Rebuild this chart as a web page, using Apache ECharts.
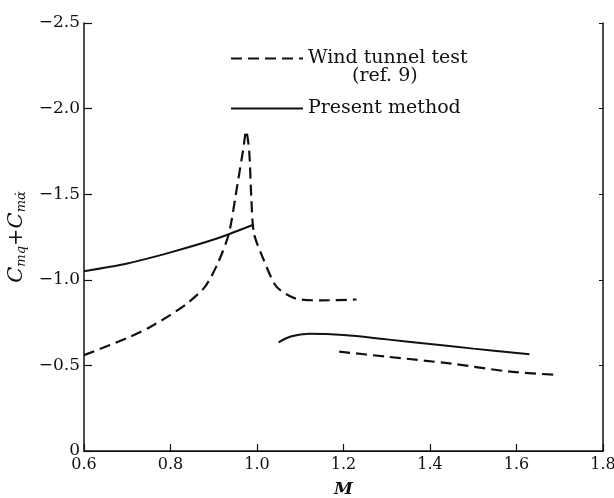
<!DOCTYPE html>
<html>
<head>
<meta charset="utf-8">
<script src="https://cdn.jsdelivr.net/npm/echarts@6/dist/echarts.min.js"></script>
<style>html,body{margin:0;padding:0;background:#fff}#c{width:614px;height:498px}</style>
</head>
<body>
<div id="c"></div>
<script>
// Data
const xTicks = [0.6, 0.8, 1.0, 1.2, 1.4, 1.6, 1.8];
const yTicks = [0, -0.5, -1.0, -1.5, -2.0, -2.5];

// Present method (solid), subsonic branch
const presentSubX = [0.6, 0.7, 0.8, 0.9, 0.99];
const presentSubY = [-1.05, -1.095, -1.16, -1.235, -1.32];
// Present method (solid), supersonic branch
const presentSupX = [1.05, 1.08, 1.12, 1.2, 1.3, 1.4, 1.5, 1.63];
const presentSupY = [-0.635, -0.67, -0.685, -0.678, -0.652, -0.625, -0.598, -0.565];

// Wind tunnel test (dashed), transonic branch
const windAX = [0.6, 0.7, 0.75, 0.8, 0.84, 0.88, 0.91, 0.935, 0.955, 0.968, 0.975, 0.982, 0.987, 0.993, 1.015, 1.045, 1.09, 1.15, 1.23];
const windAY = [-0.56, -0.66, -0.72, -0.795, -0.865, -0.96, -1.10, -1.27, -1.56, -1.76, -1.87, -1.75, -1.47, -1.27, -1.12, -0.96, -0.89, -0.88, -0.885];
// Wind tunnel test (dashed), supersonic branch
const windBX = [1.19, 1.3, 1.45, 1.58, 1.69];
const windBY = [-0.58, -0.551, -0.51, -0.465, -0.445];

const legendNames = ['Wind tunnel test', 'Present method'];
const legendNote = '(ref. 9)';

const zip = (xs, ys) => xs.map((x, i) => [x, ys[i]]);
const SERIF = '"DejaVu Serif", "Liberation Serif", serif';
const INK = '#111';

const chart = echarts.init(document.getElementById('c'), null, {renderer: 'canvas'});

const dashed = {type: [11, 6], width: 2.2, color: INK};
const solid = {type: 'solid', width: 2, color: INK};

function lineSeries(name, data, style, smooth) {
  return {
    name: name, type: 'line', data: data, showSymbol: false, symbol: 'none',
    smooth: smooth, lineStyle: style, itemStyle: {color: INK},
    animation: false, silent: true
  };
}

const yFmt = v => (v === 0 ? '0' : '\u2212' + Math.abs(v).toFixed(1));

chart.setOption({
  animation: false,
  backgroundColor: '#fff',
  grid: {left: 84, right: 11, top: 23, bottom: 47, containLabel: false, outerBoundsMode: 'none'},
  legend: {
    left: 230, top: 49, orient: 'vertical', itemGap: 31, padding: 0,
    itemWidth: 72, itemHeight: 20,
    itemStyle: {opacity: 0},
    textStyle: {fontFamily: SERIF, fontSize: 19, color: INK},
    data: legendNames.map(n => ({name: n}))
  },
  graphic: [{
    type: 'text', left: 352, top: 67, silent: true,
    style: {text: legendNote, font: '19px ' + SERIF, fill: INK}
  }],
  xAxis: [{
    type: 'value', min: 0.6, max: 1.8, interval: 0.2,
    name: 'M', nameLocation: 'middle', nameGap: 30,
    nameTextStyle: {fontFamily: SERIF, fontSize: 17, fontStyle: 'italic', fontWeight: 'bold', color: INK},
    axisLine: {show: true, lineStyle: {color: INK, width: 1.5}},
    axisTick: {show: true, inside: true, length: 7, lineStyle: {color: INK, width: 1.2}},
    axisLabel: {fontFamily: SERIF, fontSize: 16, color: INK, margin: 6,
      formatter: v => v.toFixed(1)},
    splitLine: {show: false}
  }, {
    type: 'value', min: 0.6, max: 1.8, interval: 0.2, position: 'top',
    axisLine: {show: true, lineStyle: {color: INK, width: 1.2}},
    axisTick: {show: false}, axisLabel: {show: false}, splitLine: {show: false}
  }],
  yAxis: [{
    type: 'value', min: -2.5, max: 0, interval: 0.5, inverse: true,
    name: '{c|C}{s|mq}{p|+}{c|C}{s|m\u03B1\u0307}',
    nameLocation: 'middle', nameGap: 53, nameRotate: 90,
    nameTextStyle: {
      color: INK,
      rich: {
        c: {fontFamily: SERIF, fontSize: 21, fontStyle: 'italic', color: INK},
        s: {fontFamily: SERIF, fontSize: 13, fontStyle: 'italic', color: INK, padding: [9, 0, 0, 0]},
        p: {fontFamily: SERIF, fontSize: 21, color: INK}
      }
    },
    axisLine: {show: true, lineStyle: {color: INK, width: 1.5}},
    axisTick: {show: true, inside: true, length: 8, lineStyle: {color: INK, width: 1.2}},
    axisLabel: {fontFamily: SERIF, fontSize: 17, color: INK, margin: 4, formatter: yFmt},
    splitLine: {show: false}
  }, {
    type: 'value', min: -2.5, max: 0, interval: 0.5, inverse: true, position: 'right',
    axisLine: {show: true, lineStyle: {color: INK, width: 1.5}},
    axisTick: {show: true, inside: true, length: 4, lineStyle: {color: INK, width: 1}},
    axisLabel: {show: false}, splitLine: {show: false}
  }],
  series: [
    lineSeries(legendNames[0], zip(windAX, windAY), dashed, 0.25),
    lineSeries(legendNames[0], zip(windBX, windBY), dashed, 0.3),
    lineSeries(legendNames[1], zip(presentSubX, presentSubY), solid, 0.3),
    lineSeries(legendNames[1], zip(presentSupX, presentSupY), solid, 0.4)
  ]
});
</script>
</body>
</html>
